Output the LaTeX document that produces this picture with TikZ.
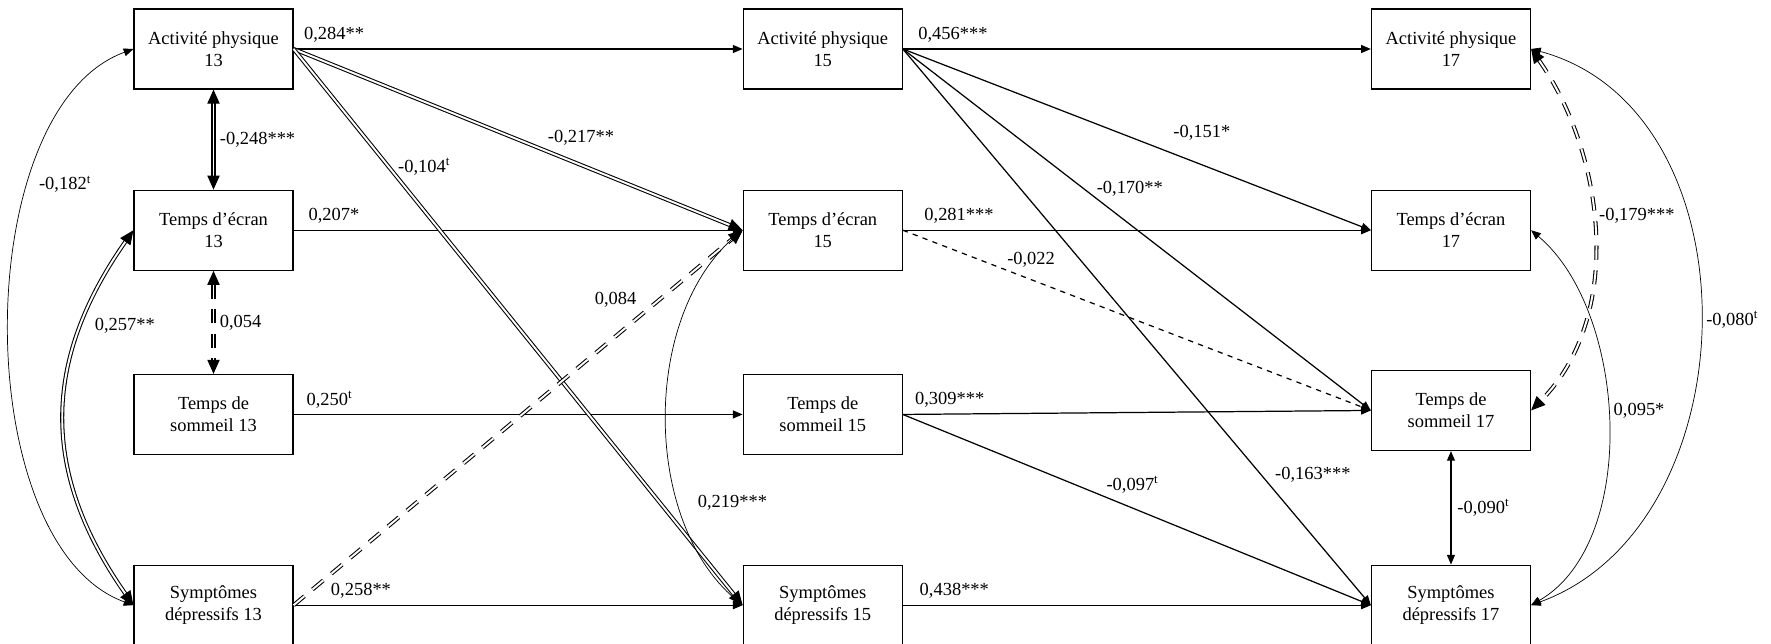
\documentclass[tikz,border=0pt]{standalone}
\usepackage{fontspec}
\setmainfont{Liberation Serif}
\usetikzlibrary{positioning,arrows.meta}

\begin{document}
\begin{tikzpicture}[
        font=\fontsize{10.5}{12.5}\selectfont,
        >={Triangle[length=5.5pt,width=4.5pt]},
        var/.style={draw, line width=0.7pt, minimum width=3.18cm, minimum height=1.6cm, align=center},
        reg/.style={line width=0.7pt, ->},
        cov/.style={line width=0.4pt, <->},
        dbl/.style={double, line width=0.6pt, double distance=1.1pt, >={Triangle[length=8pt,width=7pt]}},
        dbldash/.style={dbl, dash pattern=on 8pt off 6pt}
    ]
    \useasboundingbox (0,0) rectangle (35.42,-12.88);

    \node[var] (a1) at (4.27,-0.98) {Activité physique\\13};
    \node[var, below=2cm of a1] (a2) {Temps d’écran\\13};
    \node[var, below=2.06cm of a2] (a3) {Temps de\\sommeil 13};
    \node[var, below=2.19cm of a3] (a4) {Symptômes\\dépressifs 13};

    \node[var, right=8.98cm of a1] (b1) {Activité physique\\15};
    \node[var, right=8.98cm of a2] (b2) {Temps d’écran\\15};
    \node[var, right=8.98cm of a3] (b3) {Temps de\\sommeil 15};
    \node[var, right=8.98cm of a4] (b4) {Symptômes\\dépressifs 15};

    \node[var, right=9.36cm of b1] (c1) {Activité physique\\17};
    \node[var, right=9.36cm of b2] (c2) {Temps d’écran\\17};
    \node[var, right=9.36cm of b3, yshift=0.08cm] (c3) {Temps de\\sommeil 17};
    \node[var, right=9.36cm of b4] (c4) {Symptômes\\dépressifs 17};

    \draw[reg] (a1) -- node[pos=0.09, above] {0,284**} (b1);
    \draw[reg] (a2) -- node[pos=0.09, above] {0,207*} (b2);
    \draw[reg] (a3) -- node[pos=0.08, above] {0,250\textsuperscript{t}} (b3);
    \draw[reg] (a4) -- node[pos=0.15, above] {0,258**} (b4);
    \draw[dbl, ->] (a1.east) -- node[pos=0.64, yshift=0.54cm] {-0,217**} (b2.west);
    \draw[dbl, ->] (a1.east) -- node[pos=0.212, xshift=0.71cm] {-0,104\textsuperscript{t}} (b4.west);
    \draw[dbldash, ->] (a4.east) -- node[pos=0.717, yshift=0.74cm] {0,084} (b2.west);

    \draw[reg] (b1) -- node[pos=0.107, above] {0,456***} (c1);
    \draw[reg] (b2) -- node[pos=0.12, above] {0,281***} (c2);
    \draw[reg] (b3.east) -- node[pos=0.1, above] {0,309***} (c3.west);
    \draw[reg] (b4) -- node[pos=0.11, above] {0,438***} (c4);
    \draw[reg] (b1.east) -- node[pos=0.639, yshift=0.64cm] {-0,151*} (c2.west);
    \draw[reg] (b1.east) -- node[pos=0.485, yshift=0.72cm] {-0,170**} (c3.west);
    \draw[reg] (b1.east) -- node[pos=0.765, xshift=1.04cm] {-0,163***} (c4.west);
    \draw[reg, dashed] (b2.east) -- node[pos=0.274, yshift=0.39cm] {-0,022} (c3.west);
    \draw[reg] (b3.east) -- node[pos=0.491, yshift=0.46cm] {-0,097\textsuperscript{t}} (c4.west);

    \draw[dbl, <->] (a1) -- node[midway, right] {-0,248***} (a2);
    \draw[dbldash, <->] (a2) -- node[midway, right] {0,054} (a3);
    \draw[reg, <->] (c3) -- node[midway, right] {-0,090\textsuperscript{t}} (c4);

    \draw[cov] (a1.west) to[out=200, in=160, looseness=0.81] node[pos=0.3, right=2pt] {-0,182\textsuperscript{t}} (a4.west);
    \draw[dbl, <->] (a2.west) to[out=235, in=125, looseness=1.1] node[pos=0.25, right=4pt] {0,257**} (a4.west);
    \draw[cov] (b2.west) to[out=220, in=140, looseness=0.9] node[pos=0.7, right=0.25cm] {0,219***} (b4.west);
    \draw[dbldash, <->] (c1.east) to[out=-55, in=45, looseness=0.93] node[pos=0.45, right] {-0,179***} (c3.east);
    \draw[cov] (c1.east) to[out=-15, in=20, looseness=1.09] node[midway, right] {-0,080\textsuperscript{t}} (c4.east);
    \draw[cov] (c2.east) to[out=-40, in=30, looseness=0.86] node[pos=0.47, right] {0,095*} (c4.east);
\end{tikzpicture}
\end{document}
